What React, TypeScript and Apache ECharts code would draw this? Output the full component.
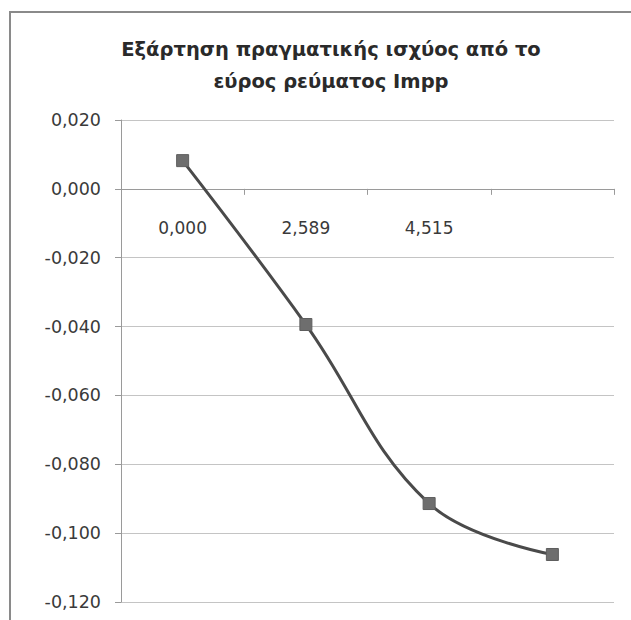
import React, { useEffect, useRef } from "react";
import * as echarts from "echarts";

const titleLines = ["Εξάρτηση πραγματικής ισχύος από το", "εύρος ρεύματος Impp"];
const categories = ["0,000", "2,589", "4,515", ""];
const values = [0.0082, -0.0394, -0.0914, -0.1062];
const yMin = -0.12;
const yMax = 0.02;
const yStep = 0.02;

const fmt = (v: number) => {
  const r = Math.round(v * 1000) / 1000;
  const s = (Math.abs(r) < 1e-9 ? 0 : r).toFixed(3);
  return s.replace(".", ",");
};

const GRID_TOP = 120;
const GRID_BOTTOM = 18;
const CHART_H = 620;

export default function App() {
  const ref = useRef<HTMLDivElement>(null);
  useEffect(() => {
    document.body.style.margin = "0";
    const chart = echarts.init(ref.current!, undefined, { renderer: "svg" });
    const gridH = CHART_H - GRID_TOP - GRID_BOTTOM;
    // distance from grid bottom up to the zero line
    const zeroFromBottom = (gridH * (0 - yMin)) / (yMax - yMin);
    chart.setOption({
      animation: false,
      backgroundColor: "#ffffff",
      title: {
        text: titleLines.join("\n"),
        left: 326,
        textAlign: "center",
        top: 28,
        textStyle: {
          fontFamily: "DejaVu Sans",
          fontWeight: "bold",
          fontSize: 19.5,
          lineHeight: 32,
          color: "#2a2a2a",
        },
      },
      graphic: [
        {
          type: "rect",
          shape: { x: 10, y: 12, width: 660, height: 660 },
          style: { fill: "none", stroke: "#8a8a8a", lineWidth: 2 },
          silent: true,
        },
      ],
      grid: { left: 121, right: 17, top: GRID_TOP, bottom: GRID_BOTTOM, outerBoundsMode: "none", containLabel: false },
      xAxis: {
        type: "category",
        data: categories,
        boundaryGap: true,
        position: "bottom",
        offset: -zeroFromBottom,
        axisLine: { onZero: false, lineStyle: { color: "#9a9a9a", width: 1 } },
        axisTick: { show: true, length: 6, lineStyle: { color: "#9a9a9a" } },
        axisLabel: {
          margin: 31,
          fontFamily: "DejaVu Sans",
          fontSize: 17,
          color: "#3a3a3a",
        },
        splitLine: { show: false },
      },
      yAxis: {
        type: "value",
        min: yMin,
        max: yMax,
        interval: yStep,
        axisLine: { show: true, lineStyle: { color: "#9a9a9a", width: 1 } },
        axisTick: { show: true, length: 6, lineStyle: { color: "#9a9a9a" } },
        axisLabel: {
          margin: 20,
          fontFamily: "DejaVu Sans",
          fontSize: 17.5,
          color: "#3a3a3a",
          formatter: (v: number) => fmt(v),
        },
        splitLine: { show: true, lineStyle: { color: "#c4c4c4", width: 1 } },
      },
      series: [
        {
          type: "line",
          data: values,
          smooth: 0.4,
          symbol: "rect",
          symbolSize: 12,
          itemStyle: { color: "#6e6e6e", borderColor: "#5e5e5e", borderWidth: 1 },
          lineStyle: { color: "#4a4a4a", width: 3 },
          z: 3,
        },
      ],
    });
    return () => chart.dispose();
  }, []);
  return (
    <div
      ref={ref}
      style={{ position: "absolute", left: 0, top: 0, width: 631, height: 620 }}
    />
  );
}
